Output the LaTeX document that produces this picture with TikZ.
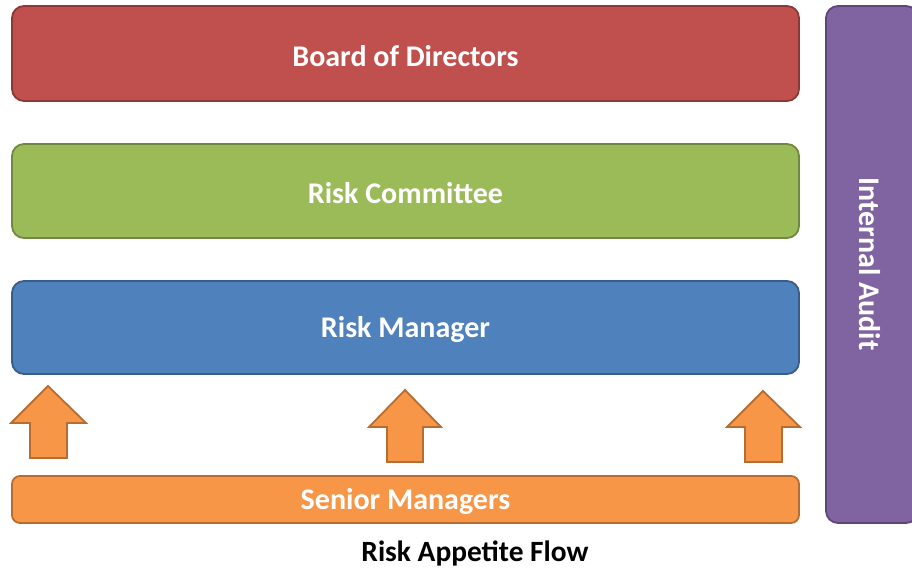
\documentclass[tikz,border=0pt]{standalone}
\usepackage{fontspec}
\setmainfont{Carlito}
\definecolor{redf}{HTML}{C0504D}\definecolor{redd}{HTML}{8C3836}
\definecolor{grnf}{HTML}{9BBB59}\definecolor{grnd}{HTML}{71893F}
\definecolor{bluf}{HTML}{4F81BD}\definecolor{blud}{HTML}{385D8A}
\definecolor{orf}{HTML}{F79646}\definecolor{ord}{HTML}{B66D31}
\definecolor{purf}{HTML}{8064A2}\definecolor{purd}{HTML}{5C4776}
\tikzset{
  bar/.style={line width=1.8pt, rounded corners=12pt},
  lbl/.style={text=white, font=\bfseries\fontsize{30}{34}\selectfont, inner sep=0pt},
  uparrow/.style={draw=ord, fill=orf, line width=1.8pt},
}
\begin{document}
\begin{tikzpicture}[x=1pt,y=-1pt]
\useasboundingbox (0,0) rectangle (912,569);
% boxes
\filldraw[bar, fill=redf, draw=redd] (12,6) rectangle (799,101);
\node[lbl] (board) at (405.5,56) {Board of Directors};
\filldraw[bar, fill=grnf, draw=grnd] (12,144) rectangle (799,238);
\node[lbl] (committee) at (405.5,193) {Risk Committee};
\filldraw[bar, fill=bluf, draw=blud] (12,281) rectangle (799,374);
\node[lbl] (manager) at (405.5,330) {Risk Manager};
\filldraw[bar, fill=orf, draw=ord, rounded corners=8pt] (12,476) rectangle (799,523);
\node[lbl] (senior) at (405.5,502) {Senior Managers};
\filldraw[bar, fill=purf, draw=purd] (826,6) rectangle (918,523);
\node[lbl, rotate=-90] (audit) at (870,264) {Internal Audit};
% block arrows
\filldraw[uparrow] (48,386) -- (86,423) -- (67,423) -- (67,458) -- (30,458) -- (30,423) -- (11,423) -- cycle;
\filldraw[uparrow] (405,390) -- (441,427) -- (423,427) -- (423,462) -- (387,462) -- (387,427) -- (369,427) -- cycle;
\filldraw[uparrow] (763,391) -- (800,427) -- (782,427) -- (782,462) -- (745,462) -- (745,427) -- (727,427) -- cycle;
% title
\node[font=\bfseries\fontsize{29.4}{33}\selectfont, inner sep=0pt] (title) at (475,553) {Risk Appetite Flow};
\end{tikzpicture}
\end{document}
